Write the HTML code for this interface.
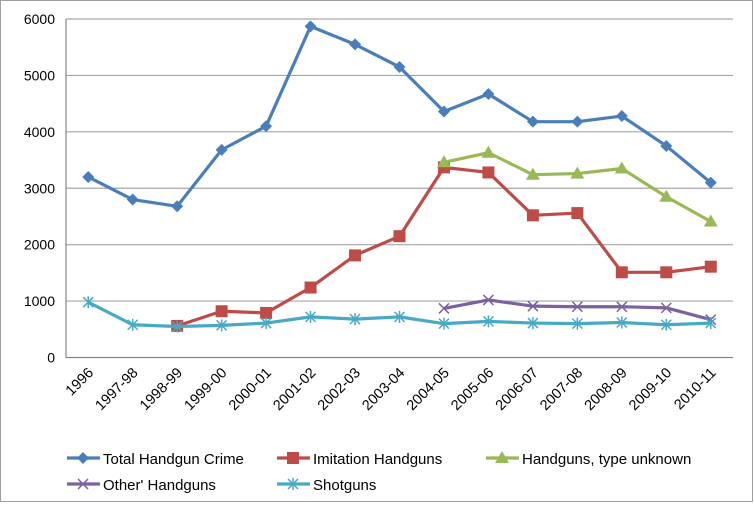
<!DOCTYPE html>
<html><head><meta charset="utf-8"><style>
body{margin:0;background:#fff;font-family:"Liberation Sans",sans-serif;}
svg text{font-family:"Liberation Sans",sans-serif;fill:#000;}
</style></head><body>
<svg id="chart" width="754" height="503" xmlns="http://www.w3.org/2000/svg">
<rect x="0.5" y="0.5" width="752" height="501" fill="#fff" stroke="#a0a0a0"/>
<g id="grid"></g><g id="axes"></g><g id="series"></g><g id="legend"></g>
</svg>
<script>
const categories=["1996","1997-98","1998-99","1999-00","2000-01","2001-02","2002-03","2003-04","2004-05","2005-06","2006-07","2007-08","2008-09","2009-10","2010-11"];
const totalHandgun=[3200,2800,2680,3680,4100,5870,5550,5150,4360,4670,4180,4180,4280,3750,3100];
const imitation=[null,null,560,820,790,1240,1810,2150,3370,3280,2520,2560,1510,1510,1610];
const typeUnknown=[null,null,null,null,null,null,null,null,3460,3630,3240,3260,3350,2850,2410];
const otherHandguns=[null,null,null,null,null,null,null,null,870,1020,910,900,900,880,670];
const shotguns=[980,580,550,570,610,720,680,720,600,640,610,600,620,580,610];
const yTicks=[0,1000,2000,3000,4000,5000,6000];
const NS="http://www.w3.org/2000/svg";
const L=66,R=733,T=19,B=357.5;
const xs=i=>L+(R-L)/categories.length*(i+0.5);
const ys=v=>B-(B-T)*v/6000;
function mk(tag,attrs,parent){const e=document.createElementNS(NS,tag);for(const k in attrs)e.setAttribute(k,attrs[k]);parent.appendChild(e);return e;}
const grid=document.getElementById('grid'),axes=document.getElementById('axes'),ser=document.getElementById('series'),leg=document.getElementById('legend');
yTicks.forEach(t=>{
  if(t>0){const g=mk('line',{x1:L,x2:R,y1:ys(t),y2:ys(t),stroke:'#a6a6a6','stroke-width':1.2},grid);
  
  }
  const tx=mk('text',{x:L-11,y:ys(t)+5,'text-anchor':'end','font-size':14},axes);tx.textContent=t;
  
  
});
const ax=mk('path',{d:`M${L},${T} V${B} H${R}`,fill:'none',stroke:'#868686','stroke-width':1.2},axes);


categories.forEach((c,i)=>{
  const x=xs(i)+6,y=B+16;
  const tx=mk('text',{x:x,y:y,'text-anchor':'end','font-size':14.5,transform:`rotate(-45 ${x} ${y})`},axes);tx.textContent=c;
  
  
});
function marker(type,x,y,color,parent){
  if(type==='diamond')return mk('path',{d:`M${x},${y-6}L${x+6},${y}L${x},${y+6}L${x-6},${y}Z`,fill:color},parent);
  if(type==='square')return mk('rect',{x:x-6,y:y-6,width:12,height:12,fill:color},parent);
  if(type==='triangle')return mk('path',{d:`M${x},${y-7}L${x+7},${y+5}L${x-7},${y+5}Z`,fill:color},parent);
  if(type==='x')return mk('path',{d:`M${x-5},${y-5}L${x+5},${y+5}M${x-5},${y+5}L${x+5},${y-5}`,stroke:color,'stroke-width':1.5},parent);
  return mk('path',{d:`M${x-5},${y-5}L${x+5},${y+5}M${x-5},${y+5}L${x+5},${y-5}M${x},${y-6}V${y+6}`,stroke:color,'stroke-width':1.5},parent);
}
const seriesDefs=[
 {name:'Total Handgun Crime',data:totalHandgun,color:'#4a7ebb',m:'diamond',id:'total-handgun-crime',lx:67,ly:464},
 {name:'Imitation Handguns',data:imitation,color:'#be4b48',m:'square',id:'imitation-handguns',lx:277,ly:464},
 {name:'Handguns, type unknown',data:typeUnknown,color:'#98b954',m:'triangle',id:'handguns-type-unknown',lx:486,ly:464},
 {name:"Other' Handguns",data:otherHandguns,color:'#7d60a0',m:'x',id:'other-handguns',lx:67,ly:490},
 {name:'Shotguns',data:shotguns,color:'#46aac5',m:'star',id:'shotguns',lx:277,ly:490}
];
seriesDefs.forEach(s=>{
  const g=mk('g',{},ser);
  
  
  let d='';s.data.forEach((v,i)=>{if(v==null)return;d+=(d?'L':'M')+xs(i)+','+ys(v);});
  const p=mk('path',{d:d,fill:'none',stroke:s.color,'stroke-width':3.2,'stroke-linejoin':'round'},g);
  
  
  s.data.forEach((v,i)=>{if(v==null)return;const m=marker(s.m,xs(i),ys(v),s.color,g);
    
    });
  const lg=mk('g',{},leg);
  
  
  mk('line',{x1:s.lx,x2:s.lx+33,y1:s.ly-6,y2:s.ly-6,stroke:s.color,'stroke-width':3.2},lg);
  marker(s.m,s.lx+16,s.ly-6,s.color,lg);
  const t=mk('text',{x:s.lx+36,y:s.ly,'font-size':15},lg);t.textContent=s.name;
});
</script>
</body></html>
